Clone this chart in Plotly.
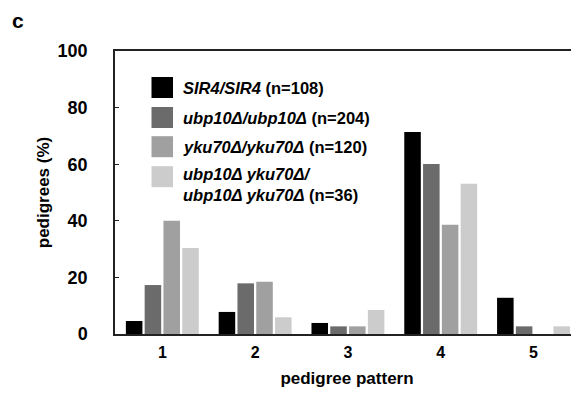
import plotly.graph_objects as go

patterns = [1, 2, 3, 4, 5]
series_names = [
    "<i>SIR4/SIR4</i> (n=108)",
    "<i>ubp10Δ/ubp10Δ</i> (n=204)",
    "<i>yku70Δ/yku70Δ</i> (n=120)",
    "<i>ubp10Δ yku70Δ/</i><br><i>ubp10Δ yku70Δ</i> (n=36)",
]
sir4 = [4.6, 7.8, 3.9, 71.4, 12.8]
ubp10 = [17.3, 17.9, 2.7, 60.1, 2.7]
yku70 = [40.0, 18.5, 2.7, 38.6, 0.0]
double = [30.4, 5.9, 8.5, 53.1, 2.7]
series_values = [sir4, ubp10, yku70, double]
colors = ["#000000", "#6b6b6b", "#a0a0a0", "#cccccc"]

OFF = 8  # page body margin in the browser
W, H = 579 - OFF, 393 - OFF
L, R, T, B = 115 - OFF, 0, 51 - OFF, 59
FONT = "Liberation Sans, Arial, sans-serif"

fig = go.Figure()
for name, vals, c in zip(series_names, series_values, colors):
    fig.add_trace(go.Bar(x=patterns, y=vals, name=name, marker_color=c,
                         marker_line_width=0, showlegend=False))

def px(x):
    return (x - OFF - L) / (W - L - R)

def py(y):
    return 1 - (y - OFF - T) / (H - T - B)

# manual legend (large swatches as in the reference)
leg_centers = [87.5, 117.5, 146.7, 176.7]
for name, c, cy in zip(series_names, colors, leg_centers):
    fig.add_shape(type="rect", xref="paper", yref="paper",
                  x0=px(151.5), x1=px(173), y0=py(cy - 10.5), y1=py(cy + 10.5),
                  fillcolor=c, line_width=0)
    ty = cy + (8 if "<br>" in name else 0)
    fig.add_annotation(xref="paper", yref="paper", x=px(181), y=py(ty),
                       xanchor="left", yanchor="middle", align="left",
                       text="<b>" + name + "</b>", showarrow=False,
                       font=dict(family=FONT, size=16.5, color="black"))

fig.add_annotation(xref="paper", yref="paper", x=px(10), y=py(20),
                   xanchor="left", yanchor="middle", text="<b>c</b>",
                   showarrow=False, font=dict(family=FONT, size=21, color="black"))

fig.update_layout(
    width=W, height=H,
    margin=dict(l=L, r=R, t=T, b=B),
    paper_bgcolor="white", plot_bgcolor="white",
    barmode="group", bargap=0.19, bargroupgap=0.12,
    font=dict(family=FONT, color="black"),
    xaxis=dict(range=[0.49, 5.49], tickvals=patterns, ticks="",
               showline=True, linecolor="#222", linewidth=1.5, mirror=True,
               showgrid=False, zeroline=False,
               tickfont=dict(size=16, weight="bold"), ticklabelstandoff=3,
               title=dict(text="<b>pedigree pattern</b>", font=dict(size=17), standoff=12)),
    yaxis=dict(range=[0, 100], tickvals=[0, 20, 40, 60, 80, 100],
               ticks="inside", ticklen=4, tickcolor="#222",
               showline=True, linecolor="#222", linewidth=1.5,
               showgrid=False, zeroline=False,
               tickfont=dict(size=18, weight="bold"), ticklabelstandoff=22,
               title=dict(text="<b>pedigrees (%)</b>", font=dict(size=17), standoff=4)),
)

fig.write_html("out.html")
